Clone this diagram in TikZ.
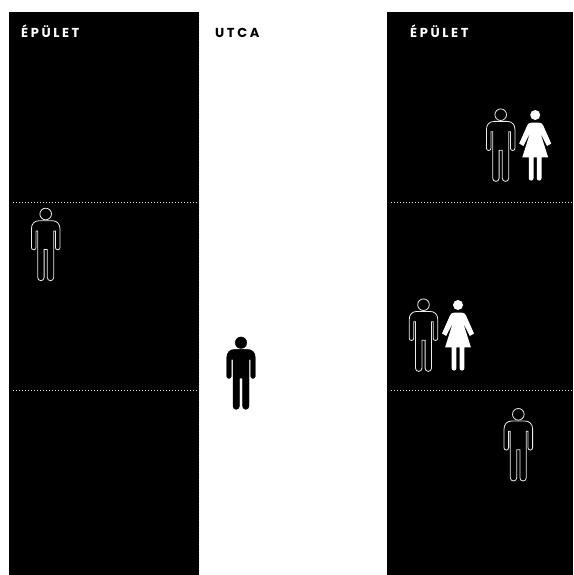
\documentclass[tikz,border=0pt]{standalone}
\usepackage{fontspec}
\setmainfont{Poppins}[LetterSpace=20,Scale=1]
\begin{document}
\begin{tikzpicture}[
  x=1pt,y=1pt,
  building/.style={fill=black,draw=none,anchor=north west,inner sep=0pt,minimum height=563pt},
  floorline/.style={draw=white!90!black,line width=1pt,dash pattern=on 1pt off 2pt},
  heading/.style={font=\fontsize{13}{15}\selectfont\bfseries,anchor=base west,inner sep=0pt},
  outlined/.style={draw=white!92!black,line width=0.8pt,fill=black},
  solidblack/.style={draw=black,line width=0.35pt,fill=black},
  solidwhite/.style={draw=none,fill=white},
  man/.pic={
    \path[pic actions] (0,0) circle (5.8);
    \path[pic actions] (-6.5,-6.7) -- (6.5,-6.7) .. controls (11.5,-6.7) and (14.3,-10) .. (14.3,-15) -- (14.3,-33.5)
      arc (0:-180:2.3) -- (9.7,-17) -- (8,-17) -- (8,-63.5) arc (0:-180:3.2) -- (1.6,-35.5) -- (-1.6,-35.5)
      -- (-1.6,-63.5) arc (0:-180:3.2) -- (-8,-17) -- (-9.7,-17) -- (-9.7,-33.5) arc (0:-180:2.3)
      -- (-14.3,-15) .. controls (-14.3,-10) and (-11.5,-6.7) .. (-6.5,-6.7) -- cycle;
  },
  woman/.pic={
    \path[pic actions] (0,0) circle (5);
    \path[pic actions] (-4,-7.7) -- (4,-7.7) .. controls (6,-7.7) and (7,-8.5) .. (8,-10.5) -- (16,-28.5)
      -- (11.8,-31) -- (5.2,-18) -- (12.9,-42.3) -- (6.4,-42.3) -- (6.4,-63.2) arc (0:-180:2.4)
      -- (1.6,-42.3) -- (-1.6,-42.3) -- (-1.6,-63.2) arc (0:-180:2.4) -- (-6.4,-42.3) -- (-12.9,-42.3)
      -- (-5.2,-18) -- (-11.8,-31) -- (-16,-28.5) -- (-8,-10.5) .. controls (-7,-8.5) and (-6,-7.7) .. (-4,-7.7) -- cycle;
  },
]
\useasboundingbox (0,-575) rectangle (573,0);

\node[building,minimum width=190pt] (leftbuilding) at (9,-12) {};
\node[building,minimum width=186pt] (rightbuilding) at (387,-12) {};

\draw[floorline] (13,-202) -- (199,-202);
\draw[floorline] (13,-390.5) -- (199,-390.5);
\draw[floorline] (391,-202) -- (573,-202);
\draw[floorline] (391,-390.5) -- (573,-390.5);
\draw[floorline] (leftbuilding.north east) -- (leftbuilding.south east);

\node[heading,text=white] (leftlabel) at (21,-38) {ÉPÜLET};
\node[heading,text=black] (streetlabel) at (215,-38) {UTCA};
\node[heading,text=white] (rightlabel) at (410,-38) {ÉPÜLET};

\pic[outlined] (leftman) at (45.7,-214) {man};
\pic[solidblack] (streetman) at (241,-342.7) {man};
\pic[outlined] (topman) at (500.7,-114.7) {man};
\pic[solidwhite] (topwoman) at (535.2,-115) {woman};
\pic[outlined] (midman) at (423.5,-304.7) {man};
\pic[solidwhite] (midwoman) at (458,-305) {woman};
\pic[outlined] (lowman) at (518.3,-414.3) {man};

\end{tikzpicture}
\end{document}
